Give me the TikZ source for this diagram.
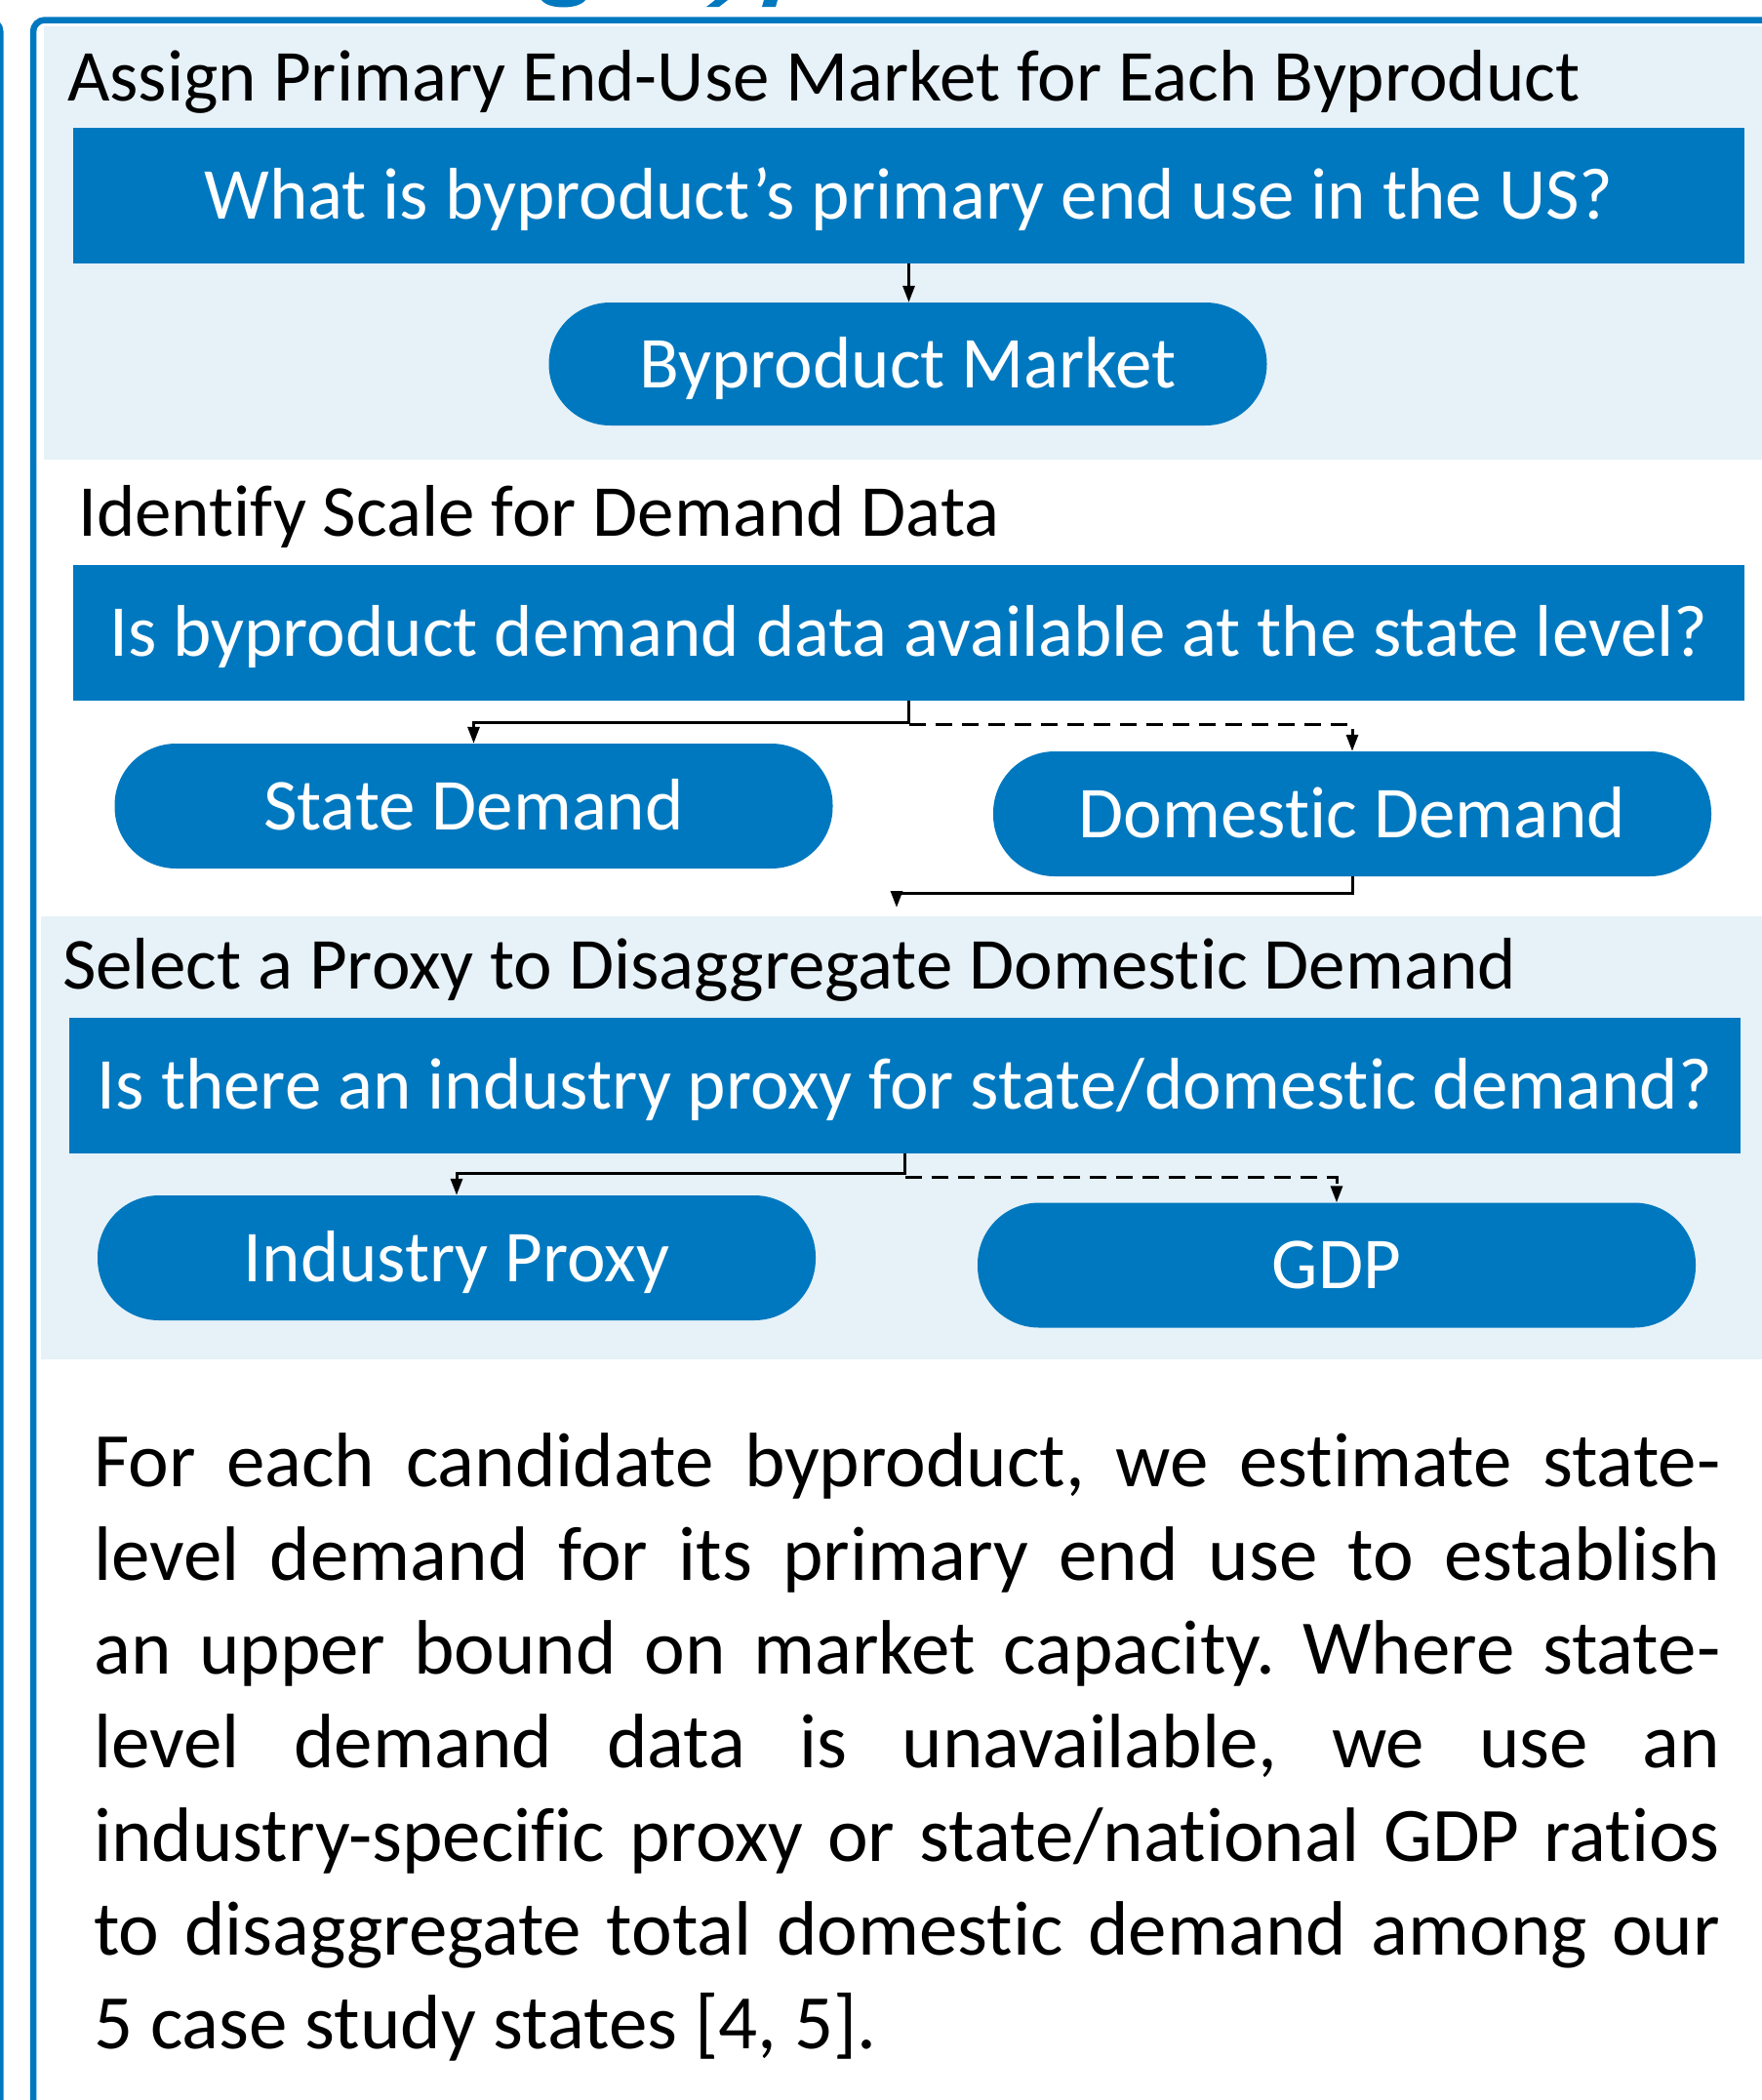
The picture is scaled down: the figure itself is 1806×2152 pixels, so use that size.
\documentclass[tikz,border=0pt]{standalone}
\usepackage{fontspec}
\setmainfont{Carlito}[Ligatures=NoCommon]
\usetikzlibrary{arrows.meta}
\definecolor{posterblue}{RGB}{0,120,191}
\definecolor{panelblue}{RGB}{230,241,248}
\frenchspacing

\begin{document}
\begin{tikzpicture}[x=1pt, y=-1pt,
	qbox/.style={fill=posterblue, text=white, minimum width=1713pt, minimum height=139pt, inner sep=0pt, text height=48pt, text depth=0pt, font=\fontsize{75}{90}\selectfont},
	pill/.style={fill=posterblue, text=white, rounded corners=63pt, minimum width=736pt, minimum height=128pt, inner sep=0pt, text height=48pt, text depth=0pt, font=\fontsize{75}{90}\selectfont},
	head/.style={anchor=base west, inner sep=0pt, font=\fontsize{75}{90}\selectfont},
	link/.style={line width=3pt, -{Triangle[length=17pt,width=12pt]}}]
		\useasboundingbox (0,0) rectangle (1806,2152);
		\begin{scope}
		\clip (0,0) rectangle (1806,2152);
		\fill[panelblue] (45,27) rectangle (1830,471);
		\fill[panelblue] (42,939) rectangle (1830,1393);
		\draw[posterblue, line width=6.5pt, rounded corners=12pt] (1850,20.5) -- (34,20.5) -- (34,2200);
		\draw[posterblue, line width=6.5pt, rounded corners=12pt] (-60,20.5) -- (0.3,20.5) -- (0.3,2200);
		\fill[posterblue] (555,0) .. controls (562,10) and (593,10) .. (600,0) -- cycle;
		\fill[posterblue] (733,0) -- (746,0) -- (737,7) -- (724,7) -- cycle;
		\fill[posterblue] (783,0) -- (797,0) -- (795,7) -- (781,7) -- cycle;
		\end{scope}
		
		\node[head] (t1) at (69,103) {Assign Primary End-Use Market for Each Byproduct};
		\node[qbox] (q1) at (931.5,200) {What is byproduct’s primary end use in the US?};
		\node[pill, minimum height=126pt] (market) at (930.5,373) {Byproduct Market};
		
		\node[head] (t2) at (80,549) {Identify Scale for Demand Data};
		\node[qbox] (q2) at (931.5,648) {Is byproduct demand data available at the state level?};
		\node[pill] (state) at (485.5,826) {State Demand};
		\node[pill] (domestic) at (1386,834) {Domestic Demand};
		
		\node[head] (t3) at (64,1013) {Select a Proxy to Disaggregate Domestic Demand};
		\node[qbox] (q3) at (927.5,1112) {Is there an industry proxy for state/domestic demand?};
		\node[pill] (proxy) at (468,1289) {Industry Proxy};
		\node[pill] (gdp) at (1370,1296.5) {GDP};
		\coordinate (sel) at (919,930);
		
		\draw[link] (q1.south) -- (q1.south |- market.north);
		\draw[link] (q2.south) -- ++(0,23) -| (state.north);
		\draw[link, dash pattern=on 17pt off 10pt] (q2.south) ++(0,25) -| (domestic.north);
		\draw[link] (domestic.south) -- ++(0,17) -| (sel);
		\draw[link] (q3.south) -- ++(0,21) -| (proxy.north);
		\draw[link, dash pattern=on 17pt off 10pt] (q3.south) ++(0,25) -| (gdp.north);
		
		\node[anchor=base west, inner sep=0pt, text width=1667pt, align=justify, font=\fontsize{79}{96}\selectfont] (note) at (96,1523) {For each candidate byproduct, we estimate state-\linebreak level demand for its primary end use to establish\linebreak an upper bound on market capacity. Where state-\linebreak level demand data is unavailable, we use an\linebreak industry-specific proxy or state/national GDP ratios\linebreak to disaggregate total domestic demand among our\linebreak 5 case study states [4, 5].};
		\end{tikzpicture}
\end{document}
